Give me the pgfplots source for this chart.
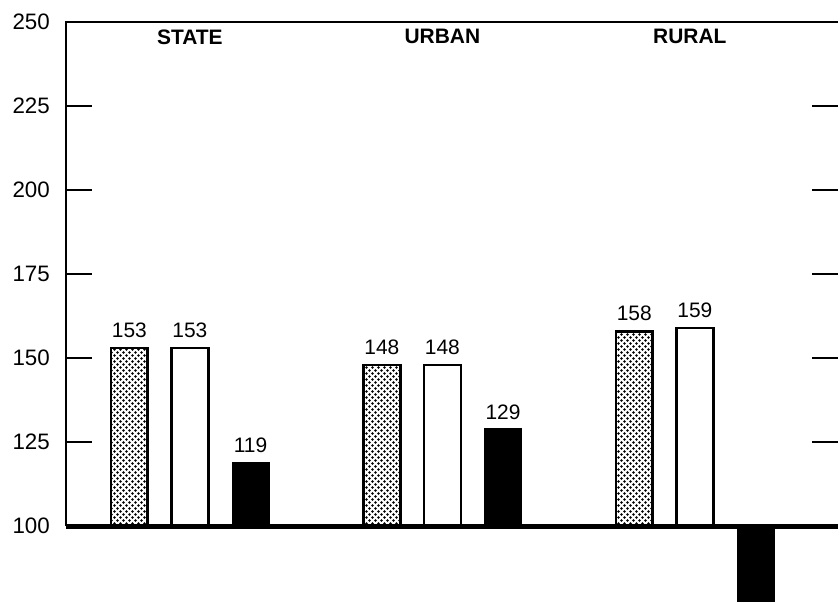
\documentclass[border=0pt]{standalone}
\usepackage{fontspec}
\setmainfont{Liberation Sans}
\usepackage{pgfplots}
\pgfplotsset{compat=1.18}
\usetikzlibrary{patterns}

% staggered dot screen like the printed stipple
\pgfdeclarepatternformonly{stipple}{\pgfqpoint{0pt}{0pt}}{\pgfqpoint{3pt}{3pt}}{\pgfqpoint{3pt}{3pt}}{%
  \pgfpathcircle{\pgfqpoint{0.75pt}{0.75pt}}{0.7pt}
  \pgfpathcircle{\pgfqpoint{2.25pt}{2.25pt}}{0.7pt}
  \pgfusepath{fill}
}

\begin{document}
\begin{tikzpicture}
\begin{axis}[
    scale only axis,
    width=387pt, height=291pt,
    xmin=-0.4916, xmax=2.5647,
    ymin=-22.6, ymax=150,
    % values are kept as read; bars are drawn from the 100 baseline
    y filter/.expression={y-100},
    axis line style={draw=none},
    xtick=\empty,
    ytick={0,25,...,150},
    yticklabels={100,125,150,175,200,225,250},
    ytick pos=both, yticklabel pos=left,
    tick align=inside,
    major tick length=13pt,
    tick style={black, line width=1.1pt},
    yticklabel style={xshift=-4.5pt, font=\fontsize{11.2}{13}\selectfont},
    /pgf/number format/assume math mode=true,
    font=\fontsize{10}{12}\selectfont,
    ybar, bar width=0.146,
    clip=false,
    nodes near coords,
    every node near coord/.append style={font=\fontsize{10.5}{12}\selectfont, inner sep=2pt, yshift=2.5pt},
]

% dotted bars
\addplot[bar shift=-0.24, draw=black, line width=1.3pt,
    pattern=stipple, pattern color=black, point meta=rawy]
    coordinates {(0,153) (1,148) (2,158)};

% white bars
\addplot[bar shift=0, draw=black, line width=1.2pt, fill=white, point meta=rawy]
    coordinates {(0,153) (1,148) (2,159)};

% black bars
\addplot[bar shift=0.24, draw=black, fill=black, point meta=explicit symbolic]
    coordinates {(0,119) [119] (1,129) [129] (2,77.5) []};

% frame
\draw[line width=1.2pt] (axis cs:-0.4916,0) -- (axis cs:-0.4916,150) -- (axis cs:2.5647,150);
\draw[line width=2.5pt] (axis cs:-0.4916,0) -- (axis cs:2.5647,0);

% group names
\node[font=\bfseries\fontsize{10.5}{12}\selectfont] at ([yshift=-7.5pt]axis cs:0,150) {STATE};
\node[font=\bfseries\fontsize{10.5}{12}\selectfont] at ([yshift=-7.5pt]axis cs:1,150) {URBAN};
\node[font=\bfseries\fontsize{10.5}{12}\selectfont] at ([yshift=-7.5pt]axis cs:1.98,150) {RURAL};

% page margins as in the reference
\path ([xshift=-33pt,yshift=11pt]axis cs:-0.4916,150) coordinate (tl);
\path (tl) rectangle (tl);
\end{axis}
\end{tikzpicture}
\end{document}
